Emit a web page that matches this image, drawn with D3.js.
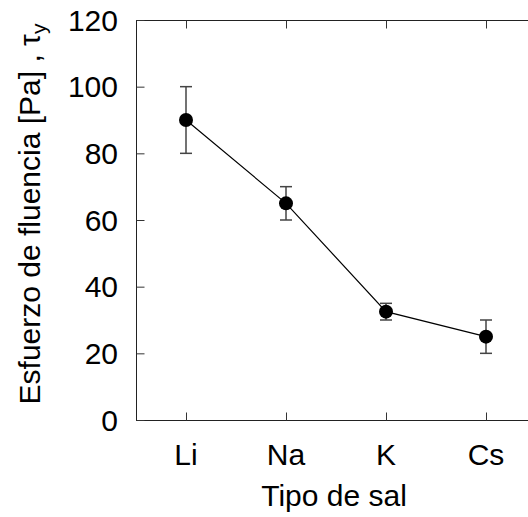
<!DOCTYPE html>
<html>
<head>
<meta charset="utf-8">
<script src="https://cdn.jsdelivr.net/npm/d3@7"></script>
<style>
  body { margin: 0; background: #fff; }
  text { font-family: "Liberation Sans", Arial, sans-serif; fill: #000; }
</style>
</head>
<body>
<div id="chart"></div>
<script>
// Data
var salts = ["Li", "Na", "K", "Cs"];
var tauY = [90, 65, 32.5, 25];
var errLow = [80, 60, 30, 20];
var errHigh = [100, 70, 35, 30];
var yTicks = [0, 20, 40, 60, 80, 100, 120];

var width = 528, height = 517;
// plot box; the right edge runs off the page
var pLeft = 136, pRight = 536, pTop = 20, pBottom = 420;
var tickLen = 8;
var fontSize = 30;

var svg = d3.select("#chart").append("svg")
    .attr("width", width)
    .attr("height", height);

var x = d3.scalePoint().domain(salts).range([pLeft, pRight]).padding(0.5);
var y = d3.scaleLinear().domain([0, 120]).range([pBottom, pTop]);

var points = salts.map(function(s, i) {
    return { salt: s, v: tauY[i], lo: errLow[i], hi: errHigh[i] };
});

// Frame
svg.append("rect")
    .attr("x", pLeft + 0.5).attr("y", pTop + 0.5)
    .attr("width", pRight - pLeft).attr("height", pBottom - pTop)
    .attr("fill", "none").attr("stroke", "#222").attr("stroke-width", 1);

// Axes with inner ticks
var axisL = svg.append("g").attr("transform", "translate(" + (pLeft + 0.5) + ",0)")
    .call(d3.axisRight(y).tickValues(yTicks).tickSize(tickLen).tickFormat(""));
var axisR = svg.append("g").attr("transform", "translate(" + (pRight + 0.5) + ",0)")
    .call(d3.axisLeft(y).tickValues(yTicks).tickSize(tickLen).tickFormat(""));
var axisB = svg.append("g").attr("transform", "translate(0," + (pBottom + 0.5) + ")")
    .call(d3.axisTop(x).tickSize(tickLen).tickFormat(""));
var axisT = svg.append("g").attr("transform", "translate(0," + (pTop + 0.5) + ")")
    .call(d3.axisBottom(x).tickSize(tickLen).tickFormat(""));
[axisL, axisR, axisB, axisT].forEach(function(a) {
    a.select(".domain").remove();
    a.selectAll("line").attr("stroke", "#333");
});

// Tick labels
svg.append("g").selectAll("text")
    .data(yTicks).enter().append("text")
    .attr("x", pLeft - 18)
    .attr("y", function(d) { return y(d); })
    .attr("dy", "0.36em")
    .attr("text-anchor", "end")
    .attr("font-size", fontSize)
    .text(function(d) { return d; });

svg.append("g").selectAll("text")
    .data(salts).enter().append("text")
    .attr("x", function(d) { return x(d); })
    .attr("y", 465)
    .attr("text-anchor", "middle")
    .attr("font-size", fontSize)
    .text(function(d) { return d; });

// Axis titles
svg.append("text")
    .attr("x", 334)
    .attr("y", 506)
    .attr("text-anchor", "middle")
    .attr("font-size", fontSize)
    .text("Tipo de sal");

var yl = svg.append("text")
    .attr("transform", "translate(40,214) rotate(-90)")
    .attr("text-anchor", "middle")
    .attr("font-size", fontSize);
yl.append("tspan").text("Esfuerzo de fluencia [Pa] , τ");
yl.append("tspan").attr("dy", "0.3em").attr("font-size", fontSize * 0.7).text("y");

// Error bars
var eb = svg.append("g").attr("stroke", "#444").attr("stroke-width", 1.5);
eb.selectAll("line.v").data(points).enter().append("line")
    .attr("class", "v")
    .attr("x1", function(d) { return x(d.salt); })
    .attr("x2", function(d) { return x(d.salt); })
    .attr("y1", function(d) { return y(d.lo); })
    .attr("y2", function(d) { return y(d.hi); });
eb.selectAll("line.lo").data(points).enter().append("line")
    .attr("class", "lo")
    .attr("x1", function(d) { return x(d.salt) - 6; })
    .attr("x2", function(d) { return x(d.salt) + 6; })
    .attr("y1", function(d) { return y(d.lo); })
    .attr("y2", function(d) { return y(d.lo); });
eb.selectAll("line.hi").data(points).enter().append("line")
    .attr("class", "hi")
    .attr("x1", function(d) { return x(d.salt) - 6; })
    .attr("x2", function(d) { return x(d.salt) + 6; })
    .attr("y1", function(d) { return y(d.hi); })
    .attr("y2", function(d) { return y(d.hi); });

// Line and markers
svg.append("path")
    .datum(points)
    .attr("fill", "none")
    .attr("stroke", "#000")
    .attr("stroke-width", 1.2)
    .attr("d", d3.line().x(function(d) { return x(d.salt); }).y(function(d) { return y(d.v); }));

svg.append("g").selectAll("circle")
    .data(points).enter().append("circle")
    .attr("cx", function(d) { return x(d.salt); })
    .attr("cy", function(d) { return y(d.v); })
    .attr("r", 7)
    .attr("fill", "#000");
</script>
</body>
</html>
